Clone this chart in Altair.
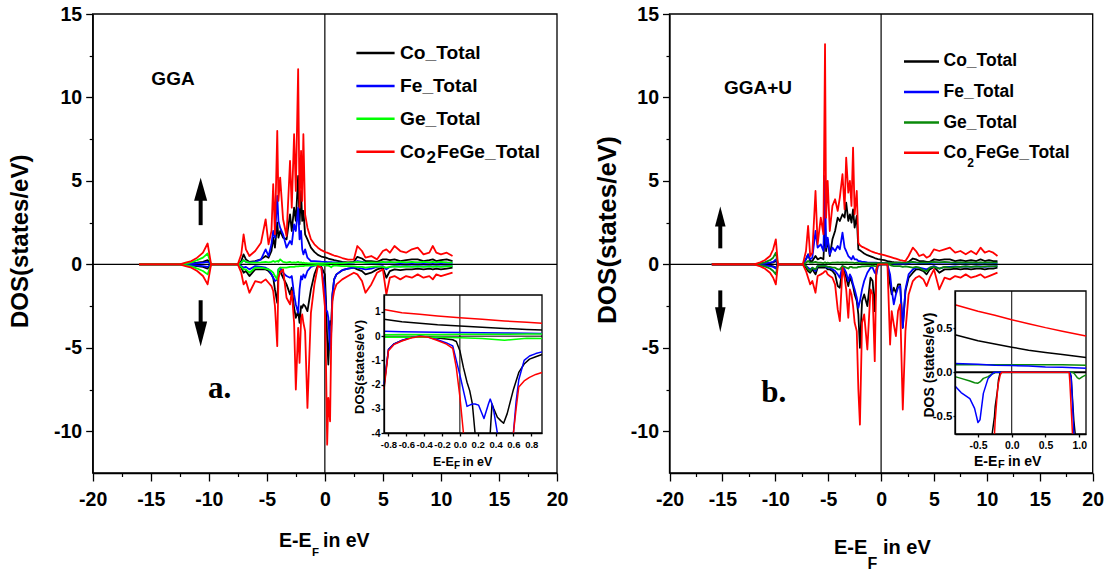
import altair as alt
import pandas as pd

N = None
# ======================= DATA =======================
# ---- panel a (GGA), main plot: energy grid (eV) and DOS (states/eV) ----
gga_e = [-16, -12.5, -12.0, -11.5, -11.0, -10.5, -10.1, -9.8, -7.5, -7.2,
         -7.0, -6.8, -6.5, -6.0, -5.5, -5.1, -4.85, -4.6, -4.45, -4.3,
         -4.1, -4.0, -3.85, -3.6, -3.3, -3.0, -2.85, -2.65, -2.5, -2.3,
         -2.18, -2.05, -1.95, -1.85, -1.7, -1.5, -1.2, -0.9, -0.6, -0.3,
         0.0, 0.1, 0.2, 0.3, 0.45, 0.55, 0.65, 0.8, 1.0, 1.5,
         2.0, 2.5, 2.8, 3.2, 3.5, 4.0, 4.5, 5.0, 5.3, 5.6,
         6.0, 6.5, 7.0, 7.5, 8.0, 8.5, 9.0, 9.3, 9.6, 10.0,
         10.5, 11.0]
gga_tot_up = [0, 0, 0.1, 0.2, 0.4, 0.7, 1.25, 0, 0, 0.6,
              1.8, 0.9, 0.5, 0.8, 1.3, 2.7, 1.2, 2.0, 4.8, 1.8,
              8.0, 3.8, 5.2, 2.7, 1.7, 6.2, 3.4, 7.8, 4.4, 11.7,
              3.4, 6.8, 3.8, 7.8, 3.0, 2.2, 1.5, 1.2, 1.0, 0.85,
              0.75, 0.72, 0.7, 0.67, 0.63, 0.6, 0.57, 0.53, 0.5, 0.38,
              0.28, 0.3, 1.1, 0.8, 0.4, 0.5, 0.3, 0.8, 0.9, 0.7,
              1.1, 0.8, 0.7, 0.9, 1.0, 0.6, 0.7, 1.1, 0.7, 0.6,
              0.7, 0.5]
gga_tot_dn = [0, 0, -0.1, -0.2, -0.4, -0.7, -1.2, 0, 0, -0.5,
              -1.2, -1.0, -1.7, -1.0, -1.1, -0.9, -1.1, -1.3, -1.6, -2.5,
              -4.9, -0.8, -0.5, -0.3, -2.0, -2.4, -1.6, -3.5, -7.5, -3.8,
              -5.9, -3.3, -3.0, -3.5, -4.0, -8.6, -2.9, -1.2, -0.1, -0.2,
              -2.5, -6.0, -10.8, -8.0, -9.4, -4.5, -2.2, -1.6, -1.2, -0.9,
              -0.7, -0.5, -0.6, -1.0, -1.7, -1.2, -0.5, -0.3, -1.8, -0.8,
              -0.7, -0.9, -0.7, -0.8, -0.6, -0.8, -0.7, -0.9, -0.6, -0.7,
              -0.6, -0.5]
gga_co_up = [0, 0, 0.03, 0.06, 0.1, 0.15, 0.25, 0, 0, 0.2,
             0.6, 0.3, 0.15, 0.2, 0.3, 0.5, 0.4, 0.8, 1.6, 1.0,
             2.5, 1.6, 2.0, 1.6, 1.5, 3.0, 2.0, 3.4, 2.6, 5.3,
             2.4, 4.4, 2.6, 3.2, 1.8, 1.5, 1.0, 0.75, 0.57, 0.47,
             0.42, 0.4, 0.38, 0.35, 0.32, 0.3, 0.28, 0.25, 0.22, 0.15,
             0.12, 0.15, 0.45, 0.35, 0.2, 0.2, 0.15, 0.3, 0.3, 0.25,
             0.3, 0.2, 0.25, 0.3, 0.3, 0.2, 0.25, 0.3, 0.2, 0.25,
             0.3, 0.2]
gga_co_dn = [0, 0, -0.03, -0.06, -0.1, -0.15, -0.25, 0, 0, -0.2,
             -0.5, -0.4, -0.7, -0.3, -0.3, -0.3, -0.4, -0.6, -0.8, -1.5,
             -2.3, -0.6, -0.4, -0.8, -1.2, -1.8, -1.4, -2.6, -3.2, -2.8,
             -3.5, -2.5, -2.6, -2.4, -2.5, -2.8, -1.5, -0.6, -0.05, -0.15,
             -0.6, -2.2, -4.5, -6.0, -3.4, -3.6, -1.8, -0.9, -0.6, -0.35,
             -0.25, -0.2, -0.3, -0.4, -0.6, -0.5, -0.3, -0.2, -0.8, -0.4,
             -0.3, -0.35, -0.3, -0.3, -0.25, -0.3, -0.25, -0.3, -0.25, -0.3,
             -0.25, -0.2]
gga_fe_up = [0, 0, 0.02, 0.04, 0.07, 0.1, 0.15, 0, 0, 0.1,
             0.25, 0.15, 0.1, 0.15, 0.3, 0.9, 0.5, 1.2, 2.0, 1.6,
             4.1, 2.6, 2.2, 1.8, 1.0, 1.4, 1.2, 2.4, 2.0, 3.4,
             1.5, 2.0, 0.9, 0.6, 0.9, 0.4, 0.2, 0.2, 0.18, 0.16,
             0.15, 0.15, 0.14, 0.14, 0.13, 0.13, 0.12, 0.12, 0.11, 0.1,
             0.08, 0.1, 0.2, 0.15, 0.1, 0.08, 0.08, 0.1, 0.12, 0.1,
             0.1, 0.08, 0.1, 0.08, 0.1, 0.08, 0.1, 0.08, 0.1, 0.08,
             0.1, 0.08]
gga_fe_dn = [0, 0, -0.02, -0.04, -0.07, -0.1, -0.15, 0, 0, -0.1,
             -0.2, -0.15, -0.3, -0.1, -0.15, -0.2, -0.3, -0.6, -0.8, -1.0,
             -0.9, -0.3, -0.2, -0.5, -0.7, -0.8, -0.7, -1.8, -2.4, -2.9,
             -1.5, -0.7, -0.9, -0.6, -0.8, -0.4, -0.15, -0.08, -0.02, -0.2,
             -1.5, -2.8, -2.8, -3.2, -5.1, -4.0, -1.9, -0.9, -0.6, -0.35,
             -0.25, -0.2, -0.2, -0.25, -0.3, -0.25, -0.15, -0.1, -0.3, -0.15,
             -0.1, -0.12, -0.1, -0.12, -0.1, -0.12, -0.1, -0.12, -0.1, -0.12,
             -0.1, -0.1]
gga_ge_up = [0, 0, 0.05, 0.12, 0.25, 0.4, 0.65, 0, 0, 0.1,
             0.25, 0.15, 0.1, 0.1, 0.12, 0.15, 0.12, 0.15, 0.2, 0.15,
             0.2, 0.15, 0.3, 0.15, 0.1, 0.15, 0.1, 0.12, 0.1, 0.15,
             0.1, 0.12, 0.08, 0.1, 0.08, 0.07, 0.06, 0.06, 0.06, 0.06,
             0.06, 0.06, 0.06, 0.07, 0.07, 0.07, 0.07, 0.07, 0.08, 0.08,
             0.1, 0.12, 0.15, 0.12, 0.1, 0.12, 0.1, 0.15, 0.12, 0.15,
             0.12, 0.15, 0.12, 0.15, 0.12, 0.15, 0.12, 0.15, 0.12, 0.15,
             0.12, 0.1]
gga_ge_dn = [0, 0, -0.05, -0.12, -0.25, -0.4, -0.6, 0, 0, -0.15,
             -0.3, -0.3, -0.5, -0.2, -0.2, -0.25, -0.3, -0.4, -0.5, -0.7,
             -0.9, -0.3, -0.2, -0.2, -0.2, -0.15, -0.15, -0.15, -0.12, -0.12,
             -0.1, -0.1, -0.1, -0.1, -0.08, -0.08, -0.07, -0.06, -0.05, -0.05,
             -0.06, -0.07, -0.08, -0.08, -0.12, -0.18, -0.1, -0.08, -0.08, -0.1,
             -0.1, -0.12, -0.15, -0.15, -0.2, -0.15, -0.12, -0.15, -0.2, -0.15,
             -0.12, -0.15, -0.12, -0.15, -0.12, -0.15, -0.12, -0.15, -0.12, -0.15,
             -0.12, -0.1]

# ---- panel a inset (zoom around E_F) ----
gi_e_up = [-0.85, -0.65, -0.45, -0.25, 0.0, 0.25, 0.5, 0.75, 0.92]
gi_tot_up = [1.1, 0.97, 0.9, 0.83, 0.76, 0.7, 0.63, 0.57, 0.53]
gi_co_up = [0.7, 0.6, 0.53, 0.47, 0.42, 0.37, 0.32, 0.28, 0.25]
gi_fe_up = [0.2, 0.18, 0.17, 0.16, 0.15, 0.14, 0.13, 0.12, 0.11]
gi_ge_up = [0.06, 0.07, 0.07, 0.07, 0.08, 0.08, 0.08, 0.09, 0.09]
gi_ge_dn = [-0.05, -0.04, -0.04, -0.05, -0.07, -0.1, -0.17, -0.09, -0.1]
gi_e_dn = [-0.85, -0.8, -0.74, -0.65, -0.55, -0.45, -0.35, -0.25, -0.15, -0.08,
           -0.04, 0.0, 0.04, 0.08, 0.11, 0.14, 0.17, 0.21, 0.27, 0.32,
           0.34, 0.36, 0.38, 0.42, 0.46, 0.49, 0.53, 0.6, 0.63, 0.66,
           0.72, 0.78, 0.85, 0.92]
gi_tot_dn = [-2.2, -0.6, -0.35, -0.2, -0.08, -0.01, -0.05, -0.18, -0.33, -0.5,
             -1.3, -2.5, -4.0, N, N, N, N, N, N, N,
             N, N, N, N, N, N, N, -4.0, -3.0, -2.1,
             -1.85, -1.7, -1.58, -1.5]
gi_co_dn = [-2.1, -0.55, -0.32, -0.18, -0.06, 0.0, -0.03, -0.08, -0.12, -0.15,
            -0.22, -0.6, -1.3, -1.9, -2.25, -2.8, -4.0, N, N, N,
            -4.0, -2.8, -3.0, -3.35, -3.5, -3.6, -3.2, -2.2, -1.85, -1.5,
            -1.15, -0.95, -0.85, -0.76]
gi_fe_dn = [-2.0, -0.55, -0.33, -0.18, -0.06, 0.0, -0.05, -0.15, -0.28, -0.4,
            -1.0, -1.6, -2.25, -2.9, -2.85, -2.8, -2.8, -2.85, -3.4, -2.8,
            -2.6, -2.8, -3.1, -4.0, N, N, N, -4.0, -2.7, -1.8,
            -1.0, -0.82, -0.72, -0.65]

# ---- panel b (GGA+U), main plot ----
gu_e = [-16, -12.0, -11.5, -11.0, -10.5, -10.2, -9.95, -9.75, -7.4, -7.1,
        -6.9, -6.7, -6.5, -6.2, -6.0, -5.7, -5.45, -5.3, -5.2, -5.05,
        -4.85, -4.6, -4.35, -4.1, -3.9, -3.65, -3.45, -3.3, -3.1, -2.95,
        -2.8, -2.65, -2.5, -2.3, -2.15, -2.0, -1.8, -1.6, -1.3, -1.0,
        -0.8, -0.6, -0.45, -0.3, 0.0, 0.3, 0.6, 0.85, 1.0, 1.2,
        1.4, 1.6, 1.8, 2.05, 2.3, 2.6, 3.0, 3.3, 3.6, 4.0,
        4.3, 4.6, 5.0, 5.5, 6.0, 6.5, 7.0, 7.5, 8.0, 8.5,
        9.0, 9.4, 9.8, 10.2, 10.6, 11.0]
gu_tot_up = [0, 0, 0.1, 0.25, 0.5, 0.9, 1.5, 0, 0, 0.8,
             2.3, 0.5, 0.7, 4.4, 1.2, 2.8, 1.8, 13.2, 2.8, 5.0,
             2.0, 3.5, 3.9, 3.2, 4.0, 5.4, 3.3, 6.4, 4.3, 5.0,
             3.5, 7.0, 3.0, 4.4, 1.3, 1.15, 1.05, 1.0, 0.9, 0.8,
             0.75, 0.7, 0.68, 0.65, 0.6, 0.55, 0.5, 0.45, 0.42, 0.38,
             0.34, 0.3, 0.26, 0.22, 0.2, 0.5, 1.0, 0.8, 0.5, 0.6,
             0.4, 0.5, 0.9, 0.8, 0.9, 1.0, 0.7, 0.8, 0.6, 0.8,
             0.6, 1.0, 0.7, 0.8, 0.7, 0.5]
gu_tot_dn = [0, 0, -0.1, -0.25, -0.5, -0.8, -1.2, 0, 0, -0.4,
             -0.8, -1.2, -1.0, -1.7, -0.7, -0.6, -0.5, -0.4, -0.4, -0.6,
             -0.7, -0.8, -1.2, -2.7, -3.4, -0.2, -0.8, -1.5, -3.2, -1.5,
             -1.8, -2.5, -3.5, -4.0, -7.5, -9.6, -3.5, -3.0, -5.1, -1.5,
             -1.8, -5.8, -0.4, 0, 0, 0, 0, -4.8, -2.8, -3.6,
             -4.3, -2.8, -2.4, -8.7, -4.0, -1.8, -1.0, -0.8, -0.7, -0.9,
             -1.3, -0.8, -0.3, -1.5, -0.8, -0.9, -0.7, -0.8, -0.6, -0.8,
             -0.7, -0.6, -0.8, -0.7, -0.6, -0.5]
gu_co_up = [0, 0, 0.02, 0.05, 0.08, 0.12, 0.2, 0, 0, 0.3,
            0.6, 0.2, 0.2, 0.5, 0.3, 0.4, 0.3, 2.5, 0.8, 1.5,
            0.5, 1.5, 2.0, 2.8, 2.6, 3.0, 2.8, 3.7, 2.6, 3.0,
            2.5, 3.3, 2.2, 2.9, 0.9, 0.85, 0.75, 0.65, 0.55, 0.48,
            0.43, 0.38, 0.35, 0.32, 0.28, 0.25, 0.2, 0.17, 0.15, 0.13,
            0.12, 0.1, 0.1, 0.08, 0.08, 0.15, 0.35, 0.3, 0.2, 0.2,
            0.15, 0.15, 0.3, 0.25, 0.3, 0.3, 0.2, 0.25, 0.2, 0.25,
            0.2, 0.3, 0.2, 0.25, 0.2, 0.2]
gu_co_dn = [0, 0, -0.02, -0.05, -0.08, -0.12, -0.2, 0, 0, -0.2,
            -0.4, -0.5, -0.3, -0.6, -0.2, -0.2, -0.2, -0.2, -0.2, -0.3,
            -0.3, -0.4, -0.6, -1.3, -1.4, -0.2, -0.5, -0.8, -1.3, -0.8,
            -1.0, -1.3, -1.8, -2.2, -3.0, -5.0, -2.2, -1.8, -2.5, -0.8,
            -1.0, -2.8, -0.3, 0, 0, 0, 0, -1.2, -1.8, -1.4,
            -1.7, -1.2, -1.2, -3.8, -1.6, -0.8, -0.5, -0.3, -0.3, -0.4,
            -0.6, -0.3, -0.15, -0.5, -0.3, -0.3, -0.25, -0.3, -0.25, -0.3,
            -0.25, -0.25, -0.3, -0.25, -0.25, -0.2]
gu_fe_up = [0, 0, 0.03, 0.06, 0.1, 0.15, 0.3, 0, 0, 0.3,
            0.6, 0.3, 0.4, 2.0, 1.0, 1.2, 0.8, 5.3, 1.0, 1.6,
            0.6, 1.0, 0.8, 1.1, 0.9, 1.9, 1.0, 0.8, 0.5, 0.4,
            0.3, 0.5, 0.3, 0.3, 0.2, 0.2, 0.15, 0.15, 0.12, 0.1,
            0.1, 0.1, 0.1, 0.09, 0.09, 0.08, 0.07, 0.06, 0.06, 0.05,
            0.05, 0.05, 0.05, 0.05, 0.05, 0.08, 0.12, 0.1, 0.08, 0.08,
            0.07, 0.07, 0.1, 0.1, 0.1, 0.1, 0.08, 0.1, 0.08, 0.1,
            0.08, 0.1, 0.08, 0.1, 0.08, 0.08]
gu_fe_dn = [0, 0, -0.03, -0.06, -0.1, -0.15, -0.25, 0, 0, -0.1,
            -0.2, -0.3, -0.2, -0.4, -0.1, -0.1, -0.1, -0.1, -0.15, -0.2,
            -0.2, -0.3, -0.4, -0.6, -0.8, -0.1, -0.3, -0.5, -1.0, -0.6,
            -0.8, -1.2, -1.5, -2.0, -2.6, -2.2, -1.5, -1.0, -0.5, -0.2,
            -0.2, -0.5, -0.6, -0.1, 0, 0, 0, -0.6, -1.5, -2.4,
            -1.8, -1.4, -1.3, -3.8, -1.5, -0.6, -0.3, -0.2, -0.2, -0.25,
            -0.3, -0.2, -0.1, -0.25, -0.15, -0.15, -0.12, -0.15, -0.12, -0.15,
            -0.12, -0.12, -0.15, -0.12, -0.12, -0.1]
gu_ge_up = [0, 0, 0.05, 0.12, 0.25, 0.4, 0.7, 0, 0, 0.1,
            0.2, 0.1, 0.1, 0.15, 0.1, 0.1, 0.08, 0.12, 0.08, 0.1,
            0.08, 0.1, 0.1, 0.12, 0.1, 0.12, 0.1, 0.12, 0.1, 0.1,
            0.1, 0.1, 0.08, 0.1, 0.08, 0.08, 0.08, 0.08, 0.08, 0.08,
            0.08, 0.08, 0.08, 0.08, 0.08, 0.08, 0.08, 0.08, 0.08, 0.09,
            0.09, 0.1, 0.1, 0.1, 0.1, 0.12, 0.15, 0.12, 0.1, 0.12,
            0.1, 0.12, 0.15, 0.12, 0.15, 0.12, 0.1, 0.12, 0.1, 0.12,
            0.1, 0.12, 0.1, 0.12, 0.1, 0.1]
gu_ge_dn = [0, 0, -0.05, -0.12, -0.25, -0.4, -0.6, 0, 0, -0.1,
            -0.3, -0.4, -0.2, -0.3, -0.1, -0.1, -0.1, -0.1, -0.1, -0.15,
            -0.15, -0.2, -0.2, -0.3, -0.3, -0.1, -0.15, -0.2, -0.25, -0.15,
            -0.15, -0.2, -0.2, -0.2, -0.15, -0.15, -0.12, -0.12, -0.1, -0.1,
            -0.08, -0.1, -0.12, -0.05, 0, 0, 0, -0.03, -0.08, -0.1,
            -0.1, -0.1, -0.1, -0.15, -0.12, -0.15, -0.2, -0.15, -0.2, -0.35,
            -0.4, -0.2, -0.15, -0.25, -0.15, -0.2, -0.15, -0.15, -0.12, -0.15,
            -0.12, -0.15, -0.12, -0.12, -0.12, -0.1]

# ---- panel b inset ----
ui_e_up = [-0.84, -0.5, -0.25, 0.0, 0.25, 0.5, 0.75, 1.1]
ui_tot_up = [0.765, 0.69, 0.645, 0.595, 0.55, 0.505, 0.465, 0.41]
ui_co_up = [0.424, 0.356, 0.32, 0.284, 0.25, 0.223, 0.2, 0.167]
ui_fe_up = [0.10, 0.09, 0.08, 0.075, 0.07, 0.06, 0.055, 0.045]
ui_ge_up = [0.085, 0.085, 0.085, 0.085, 0.085, 0.085, 0.085, 0.08]
ui_e_dn = [-0.84, -0.75, -0.62, -0.55, -0.5, -0.47, -0.42, -0.35, -0.29, -0.255,
           -0.245, -0.21, -0.196, -0.17, -0.147, 0.0, 0.5, 0.85, 0.86, 0.88,
           0.9, 0.92, 0.94, 0.97, 1.0, 1.05, 1.1]
ui_tot_dn = [N, N, N, N, N, N, N, N, N, -0.7,
             -0.55, -0.2, -0.12, -0.03, 0.0, 0.0, 0.0, 0.0, -0.1, -0.4,
             -0.7, N, N, N, N, N, N]
ui_co_dn = [N, N, N, N, N, N, N, N, -0.7, -0.5,
            -0.39, -0.2, -0.087, 0.0, 0.0, 0.0, 0.0, 0.0, 0.0, -0.05,
            -0.3, -0.55, -0.7, N, N, N, N]
ui_fe_dn = [-0.155, -0.23, -0.3, -0.41, -0.57, -0.54, -0.24, -0.07, -0.02, 0.0,
            0.0, 0.0, 0.0, 0.0, 0.0, 0.0, 0.0, 0.0, 0.0, -0.05,
            -0.35, -0.7, N, N, N, N, N]
ui_ge_dn = [-0.05, -0.07, -0.1, -0.12, -0.125, -0.11, -0.07, -0.05, -0.02, -0.01,
            0.0, 0.0, 0.0, 0.0, 0.0, 0.0, 0.0, 0.0, 0.0, 0.0,
            0.0, -0.01, -0.03, -0.06, -0.075, -0.05, -0.03]

legend_labels = ["Co_Total", "Fe_Total", "Ge_Total"]

# ======================= STYLE / LAYOUT =======================
W, H = 1107, 573
FONT = "Liberation Sans, Arial, sans-serif"
SERIF = "Liberation Serif, Times New Roman, serif"
BLACK, BLUE, RED = "#000000", "#0000ff", "#ff0000"
LIME, DGREEN = "#00ff00", "#0a8a0a"

MAIN_XD, MAIN_YD = [-20, 20], [-12.5, 15]
AI_XD, AI_YD = [-0.85, 0.92], [-4, 1.7]
BI_XD, BI_YD = [-0.84, 1.1], [-0.7, 0.92]
MAIN_YR = [473, 14]


def sc(dom, rng):
    return alt.Scale(domain=dom, range=rng, nice=False, zero=False)


XA, XB = sc(MAIN_XD, [92.7, 557]), sc(MAIN_XD, [669.5, 1092.7])
YA, YB = sc(MAIN_YD, MAIN_YR), sc(MAIN_YD, MAIN_YR)
XAI, YAI = sc(AI_XD, [384, 542]), sc(AI_YD, [433, 295])
XBI, YBI = sc(BI_XD, [955, 1086]), sc(BI_YD, [434, 291])

INT_EXPR = "'' + datum.value"
DEC_EXPR = "replace(format(datum.value, '.1f'), '\u2212', '-')"


def axis(orient, offset, values, expr, size, tick, pad):
    return alt.Axis(orient=orient, offset=offset, values=values, labelExpr=expr, title=None,
                    labelFont=FONT, labelFontSize=size, labelFontWeight="bold",
                    labelColor="black", labelFlush=False, labelOverlap=False,
                    labelPadding=pad, tickSize=tick, tickWidth=1.3, tickColor="black",
                    domainColor="black", domainWidth=1.3, grid=False, zindex=1)


def minor_axis(orient, offset, values):
    return alt.Axis(orient=orient, offset=offset, values=values, labels=False, domain=False,
                    title=None, tickSize=3.5, tickWidth=1.2, tickColor="black", grid=False,
                    zindex=1)


def long_df(parts):
    rows = []
    for name, e, vals in parts:
        seg, gap = 0, True
        for x, v in zip(e, vals):
            if v is None:
                gap = True
                continue
            if gap:
                seg += 1
                gap = False
            rows.append({"x": x, "y": v, "seg": f"{name}{seg}"})
    return pd.DataFrame(rows)


def curve(parts, color, xs, ys, width):
    return alt.Chart(long_df(parts)).mark_line(
        color=color, strokeWidth=width, strokeJoin="round").encode(
        x=alt.X("x:Q", scale=xs, axis=None),
        y=alt.Y("y:Q", scale=ys, axis=None),
        detail="seg:N")


def hrule(y, xd, xs, ys, width):
    df = pd.DataFrame({"x0": [xd[0]], "x1": [xd[1]], "y": [y]})
    return alt.Chart(df).mark_rule(color="black", strokeWidth=width).encode(
        x=alt.X("x0:Q", scale=xs, axis=None), x2="x1:Q",
        y=alt.Y("y:Q", scale=ys, axis=None))


def vrule(x, yd, xs, ys, width):
    df = pd.DataFrame({"x": [x], "y0": [yd[0]], "y1": [yd[1]]})
    return alt.Chart(df).mark_rule(color="black", strokeWidth=width).encode(
        x=alt.X("x:Q", scale=xs, axis=None),
        y=alt.Y("y0:Q", scale=ys, axis=None), y2="y1:Q")


def box_df(xd, yd):
    return pd.DataFrame({"x0": [xd[0]], "x1": [xd[1]], "y0": [yd[0]], "y1": [yd[1]]})


def box(xd, yd, xs, ys, opacity):
    return alt.Chart(box_df(xd, yd)).mark_rect(
        fill="white", fillOpacity=opacity, stroke="black", strokeWidth=1.3).encode(
        x=alt.X("x0:Q", scale=xs, axis=None), x2="x1:Q",
        y=alt.Y("y0:Q", scale=ys, axis=None), y2="y1:Q")


def axes_layer(xd, yd, xs, ys, xaxis, yaxis):
    return alt.Chart(box_df(xd, yd)).mark_point(opacity=0).encode(
        x=alt.X("x0:Q", scale=xs, axis=xaxis),
        y=alt.Y("y0:Q", scale=ys, axis=yaxis))


def arrow(x, y_tail, y_base, y_head, up, height, half_w, xs, ys):
    shaft = alt.Chart(pd.DataFrame({"x": [x], "y": [y_tail], "y2": [y_base]})).mark_rule(
        color="black", strokeWidth=4).encode(
        x=alt.X("x:Q", scale=xs, axis=None),
        y=alt.Y("y:Q", scale=ys, axis=None), y2="y2:Q")
    if up:
        path = f"M0,-1L{half_w},1L-{half_w},1Z"
    else:
        path = f"M0,1L{half_w},-1L-{half_w},-1Z"
    head = alt.Chart(pd.DataFrame({"x": [x], "y": [y_head]})).mark_point(
        shape=path, size=height * height, filled=True, color="black", opacity=1).encode(
        x=alt.X("x:Q", scale=xs, axis=None),
        y=alt.Y("y:Q", scale=ys, axis=None))
    return [shaft, head]


def txt(s, x, y, size, font=FONT, align="left", angle=0):
    kw = dict(align=align, baseline="middle", font=font, fontSize=size,
              fontWeight="bold", color="black")
    if angle:
        kw["angle"] = angle
    return alt.Chart(pd.DataFrame({"t": [s]})).mark_text(**kw).encode(
        x=alt.value(x), y=alt.value(y), text="t:N")


def legend_line(x1, x2, y, color):
    return alt.Chart(pd.DataFrame({"a": [0]})).mark_rule(color=color, strokeWidth=2.5).encode(
        x=alt.value(x1), x2=alt.value(x2), y=alt.value(y))


MAJ_X = list(range(-20, 21, 5))
MAJ_Y = [-10, -5, 0, 5, 10, 15]
MIN_X = [-17.5, -12.5, -7.5, -2.5, 2.5, 7.5, 12.5, 17.5]
MIN_Y = [-7.5, -2.5, 2.5, 7.5, 12.5]


def main_panel(e, co, fe, ge, tot, gcol, xs, ys, arrows):
    layers = [hrule(0, MAIN_XD, xs, ys, 1.2), vrule(0, MAIN_YD, xs, ys, 1.2)]
    for (up, dn), col in [(co, BLACK), (fe, BLUE), (ge, gcol), (tot, RED)]:
        layers.append(curve([("u", e, up), ("d", e, dn)], col, xs, ys, 1.8))
    for a in arrows:
        layers += arrow(*a, xs, ys)
    layers.append(box(MAIN_XD, MAIN_YD, xs, ys, 0))
    return alt.layer(*layers)


panel_a = main_panel(gga_e, (gga_co_up, gga_co_dn), (gga_fe_up, gga_fe_dn),
                     (gga_ge_up, gga_ge_dn), (gga_tot_up, gga_tot_dn), LIME, XA, YA,
                     [(-10.7, 2.35, 3.9, 4.5, True, 23, 0.57),
                      (-10.7, -2.15, -3.5, -4.17, False, 25, 0.52)])
panel_b = main_panel(gu_e, (gu_co_up, gu_co_dn), (gu_fe_up, gu_fe_dn),
                     (gu_ge_up, gu_ge_dn), (gu_tot_up, gu_tot_dn), DGREEN, XB, YB,
                     [(-15.2, 0.96, 2.35, 2.87, True, 20, 0.53),
                      (-15.2, -1.56, -2.65, -3.32, False, 25, 0.42)])

inset_a = alt.layer(
    box(AI_XD, AI_YD, XAI, YAI, 1),
    hrule(0, AI_XD, XAI, YAI, 1), vrule(0, AI_YD, XAI, YAI, 1),
    curve([("u", gi_e_up, gi_co_up), ("d", gi_e_dn, gi_co_dn)], BLACK, XAI, YAI, 1.5),
    curve([("u", gi_e_up, gi_fe_up), ("d", gi_e_dn, gi_fe_dn)], BLUE, XAI, YAI, 1.5),
    curve([("u", gi_e_up, gi_ge_up), ("d", gi_e_up, gi_ge_dn)], LIME, XAI, YAI, 1.5),
    curve([("u", gi_e_up, gi_tot_up), ("d", gi_e_dn, gi_tot_dn)], RED, XAI, YAI, 1.5),
)
inset_b = alt.layer(
    box(BI_XD, BI_YD, XBI, YBI, 1),
    hrule(0, BI_XD, XBI, YBI, 2), vrule(0, BI_YD, XBI, YBI, 1),
    curve([("u", ui_e_up, ui_co_up), ("d", ui_e_dn, ui_co_dn)], BLACK, XBI, YBI, 1.5),
    curve([("u", ui_e_up, ui_ge_up), ("d", ui_e_dn, ui_ge_dn)], DGREEN, XBI, YBI, 1.5),
    curve([("u", ui_e_up, ui_fe_up), ("d", ui_e_dn, ui_fe_dn)], BLUE, XBI, YBI, 1.5),
    curve([("u", ui_e_up, ui_tot_up), ("d", ui_e_dn, ui_tot_dn)], RED, XBI, YBI, 1.5),
)

axis_layers = [
    axes_layer(MAIN_XD, MAIN_YD, XA, YA,
               axis("bottom", -100, MAJ_X, INT_EXPR, 19.5, 8, 9),
               axis("left", -92.7, MAJ_Y, INT_EXPR, 19.5, 7, 4)),
    axes_layer(MAIN_XD, MAIN_YD, XB, YB,
               axis("bottom", -100, MAJ_X, INT_EXPR, 19.5, 8, 9),
               axis("left", -669.5, MAJ_Y, INT_EXPR, 19.5, 7, 4)),
    axes_layer(MAIN_XD, MAIN_YD, XA, YA,
               minor_axis("bottom", -100, MIN_X), minor_axis("left", -92.7, MIN_Y)),
    axes_layer(MAIN_XD, MAIN_YD, XB, YB,
               minor_axis("bottom", -100, MIN_X), minor_axis("left", -669.5, MIN_Y)),
    axes_layer(AI_XD, AI_YD, XAI, YAI,
               axis("bottom", -140, [-0.8, -0.6, -0.4, -0.2, 0.0, 0.2, 0.4, 0.6, 0.8],
                    DEC_EXPR, 9.5, 3, 3),
               axis("left", -384, [1, 0, -1, -2, -3, -4], INT_EXPR, 10, 3, 1)),
    axes_layer(BI_XD, BI_YD, XBI, YBI,
               axis("bottom", -139, [-0.5, 0.0, 0.5, 1.0], DEC_EXPR, 10.5, 3, 3),
               axis("left", -955, [-0.5, 0.0, 0.5], DEC_EXPR, 11.5, 2, 1)),
]

texts = []
# panel a annotations
texts += [txt("GGA", 173, 79.3, 19, FONT, "center"), txt("a.", 219.6, 389.4, 31, SERIF, "center")]
rows_a = [53, 86, 118.8, 151.7]
for y, col in zip(rows_a, [BLACK, BLUE, LIME, RED]):
    texts.append(legend_line(356.4, 394.6, y, col))
for y, lab in zip(rows_a, legend_labels):
    texts.append(txt(lab, 400, y, 19.2))
texts += [txt("Co", 400, rows_a[3], 19.2), txt("2", 426.5, rows_a[3] + 6, 17),
          txt("FeGe_Total", 437, rows_a[3], 19.2)]
texts += [txt("DOS(states/eV)", 20.5, 241.3, 24, FONT, "center", 270),
          txt("E-E", 279, 540.5, 19.5), txt("F", 312, 553, 11.5),
          txt("in eV", 323, 540.5, 19.5)]
texts += [txt("DOS(states/eV)", 360, 367, 13, FONT, "center", 270),
          txt("E-E", 433, 461.5, 12.5), txt("F", 454, 466, 10), txt("in eV", 462.5, 461.5, 12.5)]
# panel b annotations
texts += [txt("GGA+U", 758, 87.7, 19, FONT, "center"), txt("b.", 773.7, 393, 31, SERIF, "center")]
rows_b = [61.4, 92.1, 122.5, 152.8]
for y, col in zip(rows_b, [BLACK, BLUE, DGREEN, RED]):
    texts.append(legend_line(904, 939, y, col))
for y, lab in zip(rows_b, legend_labels):
    texts.append(txt(lab, 943.5, y, 17.5))
texts += [txt("Co", 943.5, rows_b[3], 17.5), txt("2", 967.3, rows_b[3] + 10, 12),
          txt("FeGe_Total", 975.5, rows_b[3], 17.5)]
texts += [txt("DOS(states/eV)", 607.8, 230, 26, FONT, "center", 270),
          txt("E-E", 834, 548, 20), txt("F", 867.5, 564, 16),
          txt("in eV", 883, 548, 20)]
texts += [txt("DOS (states/eV)", 930, 365, 14, FONT, "center", 270),
          txt("E-E", 974, 461.5, 14), txt("F", 998, 465, 11), txt("in eV", 1008, 461.5, 14)]

chart = alt.layer(panel_a, inset_a, panel_b, inset_b, *axis_layers, *texts).resolve_scale(
    x="independent", y="independent").properties(
    width=W, height=H, autosize=alt.AutoSizeParams(type="none"), padding=0,
    background="white").configure_view(stroke="transparent")

chart.save("out.html", embed_options={"renderer": "svg", "actions": False})
